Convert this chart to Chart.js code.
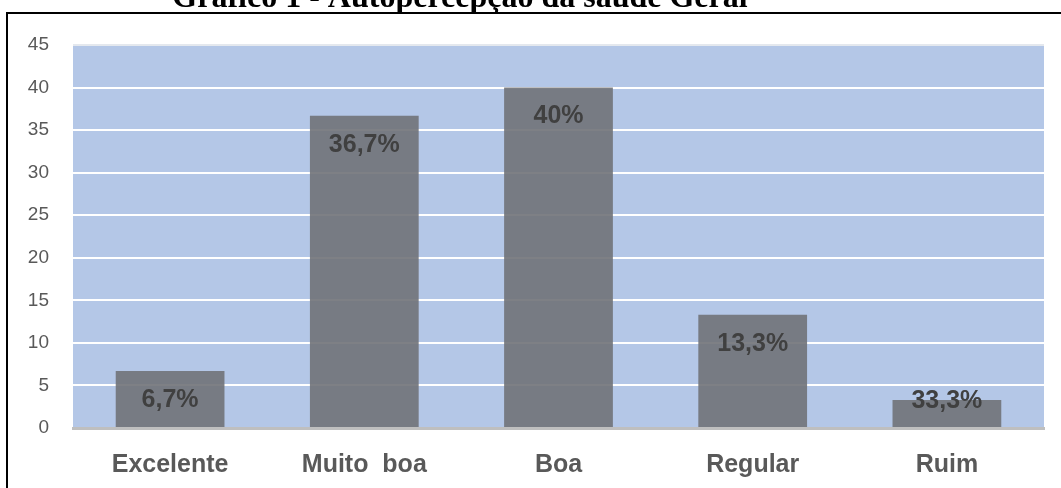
<!DOCTYPE html>
<html>
<head>
<meta charset="utf-8">
<script src="https://cdn.jsdelivr.net/npm/chart.js@4.4.1/dist/chart.umd.min.js"></script>
<style>
  body{margin:0;background:#fff;overflow:hidden;}
  #wrap{position:relative;width:1061px;height:488px;}
  #box{position:absolute;left:6px;top:12px;width:1100px;height:600px;border:2px solid #000;box-sizing:border-box;}
  canvas{position:absolute;left:0;top:0;}
</style>
</head>
<body>
<div id="wrap">
  <div id="box"></div>
  <canvas id="chart" width="1061" height="488"></canvas>
</div>
<script>
const categories = ['Excelente', 'Muito  boa', 'Boa', 'Regular', 'Ruim'];
const values = [6.7, 36.7, 40, 13.3, 3.3];
const valueLabels = ['6,7%', '36,7%', '40%', '13,3%', '33,3%'];
const yTicks = [0, 5, 10, 15, 20, 25, 30, 35, 40, 45];
const title = 'Gráfico 1 - Autopercepção da saúde Geral';

// fundo azul da area do grafico + titulo cortado
const bgPlugin = {
    id: 'bg',
    beforeDraw(chart){
        let a = chart.chartArea, ctx = chart.ctx;
        ctx.save();
        ctx.fillStyle = '#B4C7E7';
        ctx.fillRect(a.left, a.top, a.right - a.left, a.bottom - a.top);
        ctx.fillStyle = '#000';
        ctx.font = 'bold 32px "Liberation Serif"';
        ctx.textAlign = 'center';
        ctx.textBaseline = 'alphabetic';
        ctx.fillText(title, 460, 7);
        ctx.restore();
    }
};

// rotulos de valor dentro das barras
const labelPlugin = {
    id: 'valueLabels',
    afterDatasetsDraw(chart){
        let ctx = chart.ctx;
        let meta = chart.getDatasetMeta(0);
        ctx.save();
        ctx.font = 'bold 25px "Liberation Sans"';
        ctx.fillStyle = '#404040';
        ctx.textAlign = 'center';
        ctx.textBaseline = 'middle';
        meta.data.forEach((bar, i) => {
            let y = Math.min(bar.y + 29, bar.base - 26);
            ctx.fillText(valueLabels[i], bar.x, y);
        });
        ctx.restore();
    }
};

new Chart(document.getElementById('chart'), {
    type: 'bar',
    data: {
        labels: categories,
        datasets: [{
            data: values,
            backgroundColor: 'rgba(112,114,120,0.9)',
            borderWidth: 0,
            categoryPercentage: 1,
            barPercentage: 0.56
        }]
    },
    options: {
        responsive: false,
        animation: false,
        layout: { padding: { left: 0, right: 17, top: 45, bottom: 0 } },
        plugins: { legend: { display: false }, tooltip: { enabled: false } },
        scales: {
            y: {
                min: 0,
                max: 45,
                afterBuildTicks(scale){ scale.ticks = yTicks.map(v => ({ value: v })); },
                afterFit(scale){ scale.width = 73; },
                grid: {
                    color: ctx => ctx.tick.value === 45 ? '#E4E8EE' : '#FFFFFF',
                    lineWidth: 2,
                    drawTicks: false
                },
                border: { display: false },
                ticks: {
                    color: '#595959',
                    font: { family: '"Liberation Sans"', size: 19 },
                    padding: 24
                }
            },
            x: {
                afterFit(scale){ scale.height = 60; },
                grid: { display: false, drawTicks: false },
                border: { color: '#BFBFBF', width: 3 },
                ticks: {
                    color: '#595959',
                    font: { family: '"Liberation Sans"', size: 25, weight: 'bold' },
                    padding: 22
                }
            }
        }
    },
    plugins: [bgPlugin, labelPlugin]
});
</script>
</body>
</html>
